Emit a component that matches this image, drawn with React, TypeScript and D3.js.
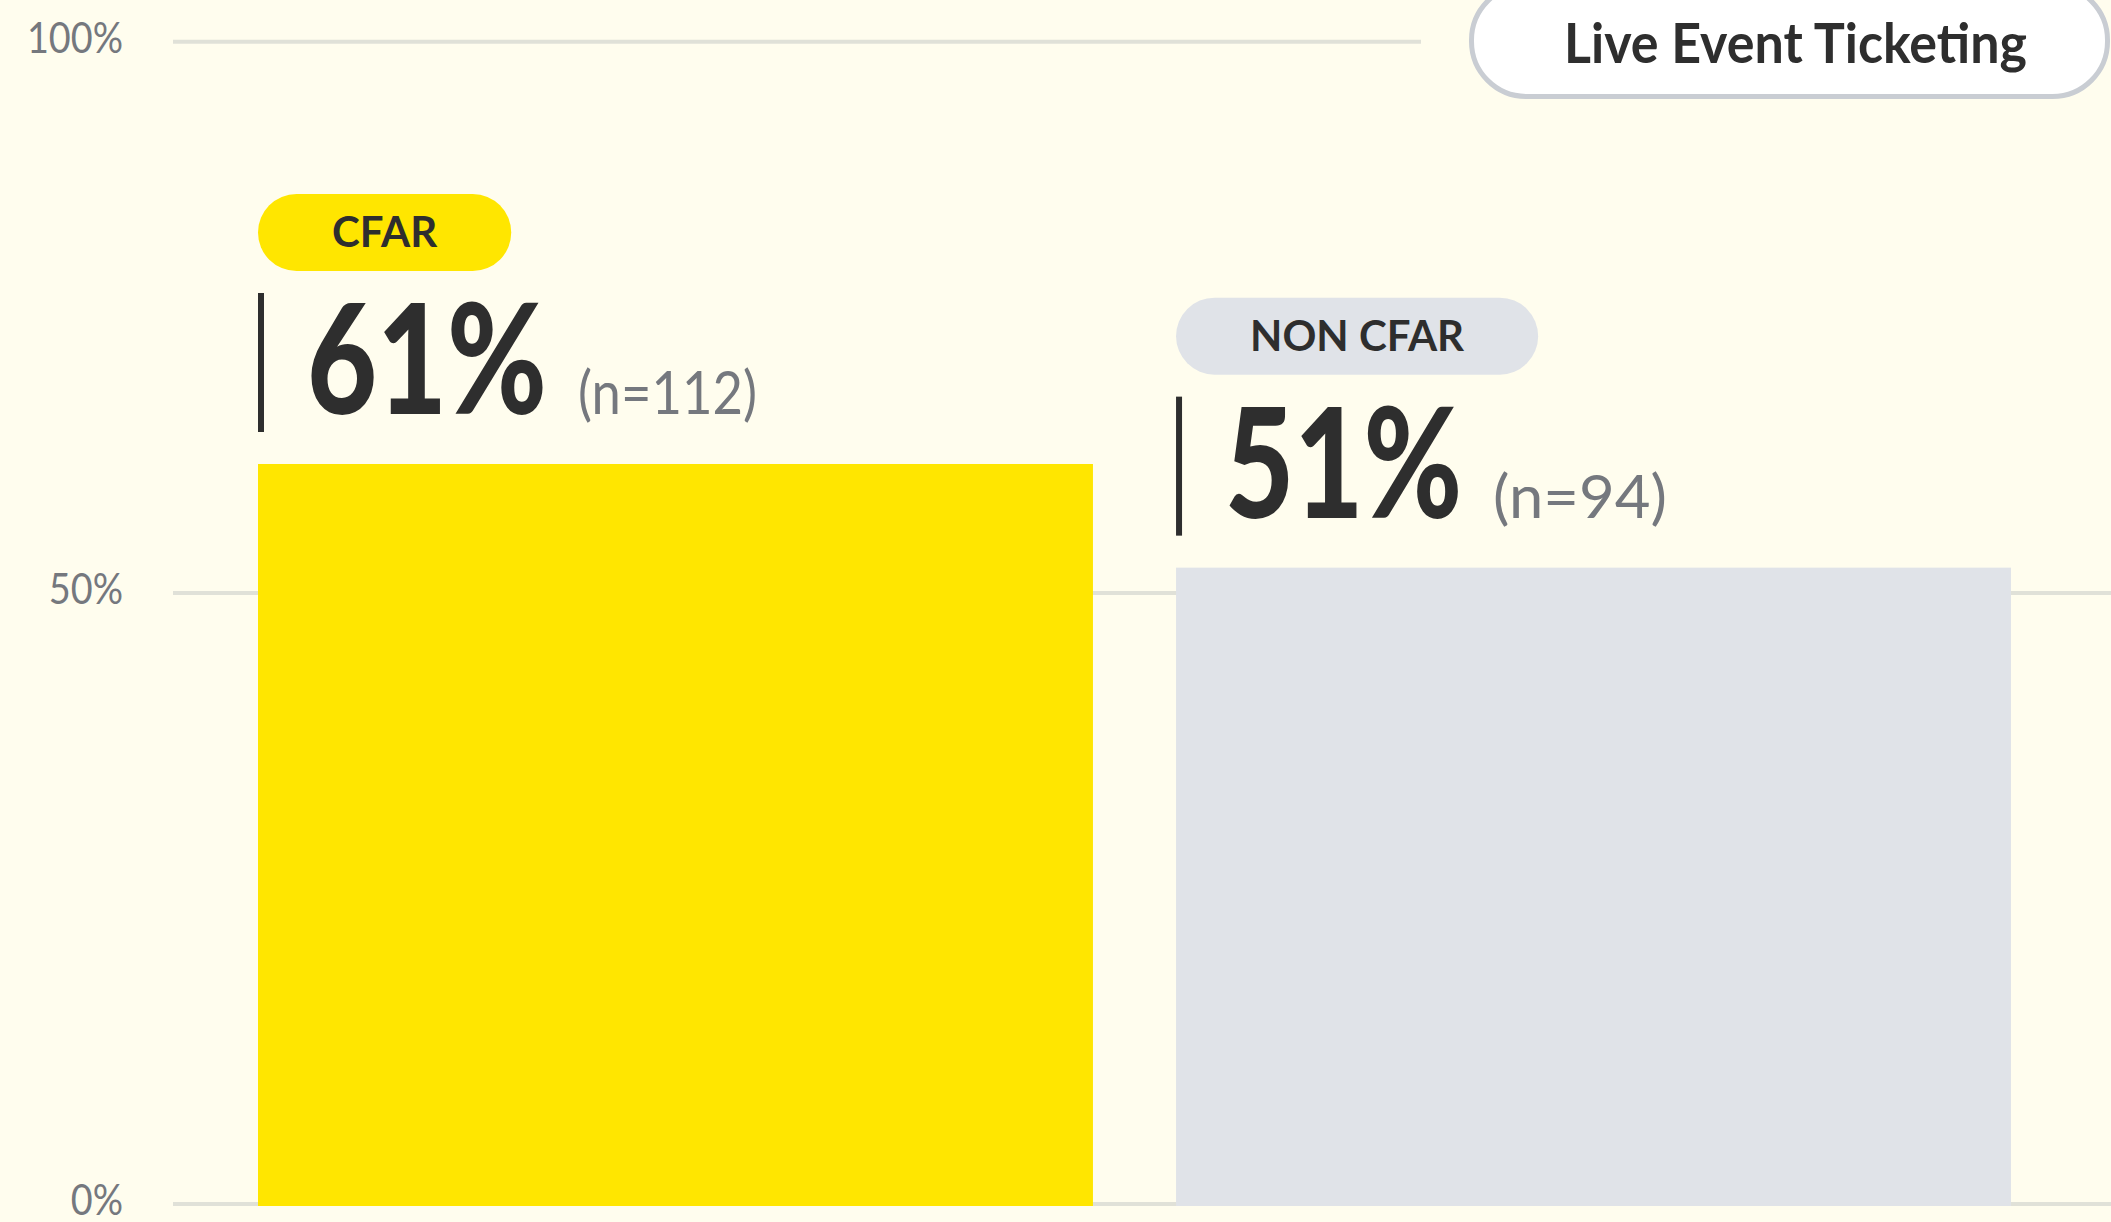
import React, { useEffect, useRef } from "react";
import * as d3 from "d3";

// ---- data ----
const categories = ["CFAR", "NON CFAR"];
const barLevels = [61.7, 52.3]; // bar tops as read against the axis
const shareLabels = [61, 51]; // printed percentages
const sampleSizes = [112, 94];
const tickValues = [0, 50, 100];
const legendLabel = "Live Event Ticketing";

// ---- layout constants ----
const W = 2111;
const H = 1222;
const FONT = "Lato, 'Noto Sans', sans-serif";
const BG = "#FFFDEE";
const DARK = "#2E2E2E";
const MUTED = "#75787E";
const GRID = "#E0E1D8";
const FILLS = ["#FFE600", "#E0E3E8"];
const BIG_WIDTHS = [240, 237];
const N_WIDTHS = [179, 174];

function squeeze(sel: any, factor: number): number {
  const node = sel.node() as SVGTextElement;
  const w = node.getComputedTextLength();
  const t = w * factor;
  sel.attr("textLength", t).attr("lengthAdjust", "spacingAndGlyphs");
  return t;
}

function fitTo(sel: any, width: number): number {
  sel.attr("textLength", width).attr("lengthAdjust", "spacingAndGlyphs");
  return width;
}

export default function App() {
  const ref = useRef<SVGSVGElement | null>(null);

  useEffect(() => {
    document.body.style.margin = "0";
    const svg = d3.select(ref.current);
    svg.selectAll("*").remove();

    const y = d3.scaleLinear().domain([0, 50, 100]).range([1204, 593, 41.7]);
    const x = d3
      .scaleBand<string>()
      .domain(categories)
      .range([258, 2011])
      .paddingInner(0.0905)
      .paddingOuter(0);

    svg.append("rect").attr("width", W).attr("height", H).attr("fill", BG);

    // gridlines + tick labels
    const grid = svg.append("g");
    tickValues.forEach((v) => {
      grid
        .append("line")
        .attr("x1", 173)
        .attr("x2", v === 100 ? 1421 : W)
        .attr("y1", y(v))
        .attr("y2", y(v))
        .attr("stroke", GRID)
        .attr("stroke-width", 4);
      const t = grid
        .append("text")
        .attr("x", 123)
        .attr("y", y(v) + 11)
        .attr("text-anchor", "end")
        .attr("font-family", FONT)
        .attr("font-size", 42)
        .attr("fill", MUTED)
        .text(`${v}%`);
      squeeze(t, 0.9);
    });

    // bars and their labels
    const bars = svg.append("g");
    categories.forEach((c, i) => {
      const bx = x(c)!;
      const top = y(barLevels[i]);
      bars
        .append("rect")
        .attr("x", bx)
        .attr("y", top)
        .attr("width", x.bandwidth())
        .attr("height", y(0) + 2 - top)
        .attr("fill", FILLS[i]);

      const g = svg.append("g");
      const pillText = g
        .append("text")
        .attr("font-family", FONT)
        .attr("font-weight", 700)
        .attr("font-size", 42)
        .attr("fill", DARK)
        .attr("text-anchor", "middle")
        .text(c);
      const tw = (pillText.node() as SVGTextElement).getComputedTextLength();
      const pw = tw + 148;
      g.insert("rect", "text")
        .attr("x", bx)
        .attr("y", top - 270)
        .attr("width", pw)
        .attr("height", 77)
        .attr("rx", 38.5)
        .attr("fill", FILLS[i]);
      pillText.attr("x", bx + pw / 2).attr("y", top - 217);

      g.append("rect")
        .attr("x", bx)
        .attr("y", top - 171)
        .attr("width", 6)
        .attr("height", 139)
        .attr("fill", DARK);

      const big = g
        .append("text")
        .attr("x", bx + 49)
        .attr("y", top - 50)
        .attr("font-family", FONT)
        .attr("font-weight", 900)
        .attr("font-size", 152)
        .attr("fill", DARK)
        .text(`${shareLabels[i]}%`);
      const bw = fitTo(big, BIG_WIDTHS[i]);

      const n = g
        .append("text")
        .attr("x", bx + 49 + bw + 31)
        .attr("y", top - 50)
        .attr("font-family", FONT)
        .attr("font-size", 60)
        .attr("fill", MUTED)
        .text(`(n=${sampleSizes[i]})`);
      fitTo(n, N_WIDTHS[i]);
    });

    // legend pill
    const lg = svg.append("g");
    lg.append("rect")
      .attr("x", 1471.5)
      .attr("y", -15)
      .attr("width", 636)
      .attr("height", 111.5)
      .attr("rx", 55)
      .attr("fill", "#FFFFFF")
      .attr("stroke", "#C9CDD3")
      .attr("stroke-width", 5);
    const lt = lg
      .append("text")
      .attr("x", 1564)
      .attr("y", 63)
      .attr("font-family", FONT)
      .attr("font-weight", 700)
      .attr("font-size", 56)
      .attr("fill", DARK)
      .text(legendLabel);
    const ln = lt.node() as SVGTextElement;
    lt.attr("textLength", Math.min(463, ln.getComputedTextLength())).attr(
      "lengthAdjust",
      "spacingAndGlyphs"
    );
  }, []);

  return (
    <svg
      ref={ref}
      width={W}
      height={H}
      style={{ position: "absolute", left: 0, top: 0, display: "block" }}
    />
  );
}
